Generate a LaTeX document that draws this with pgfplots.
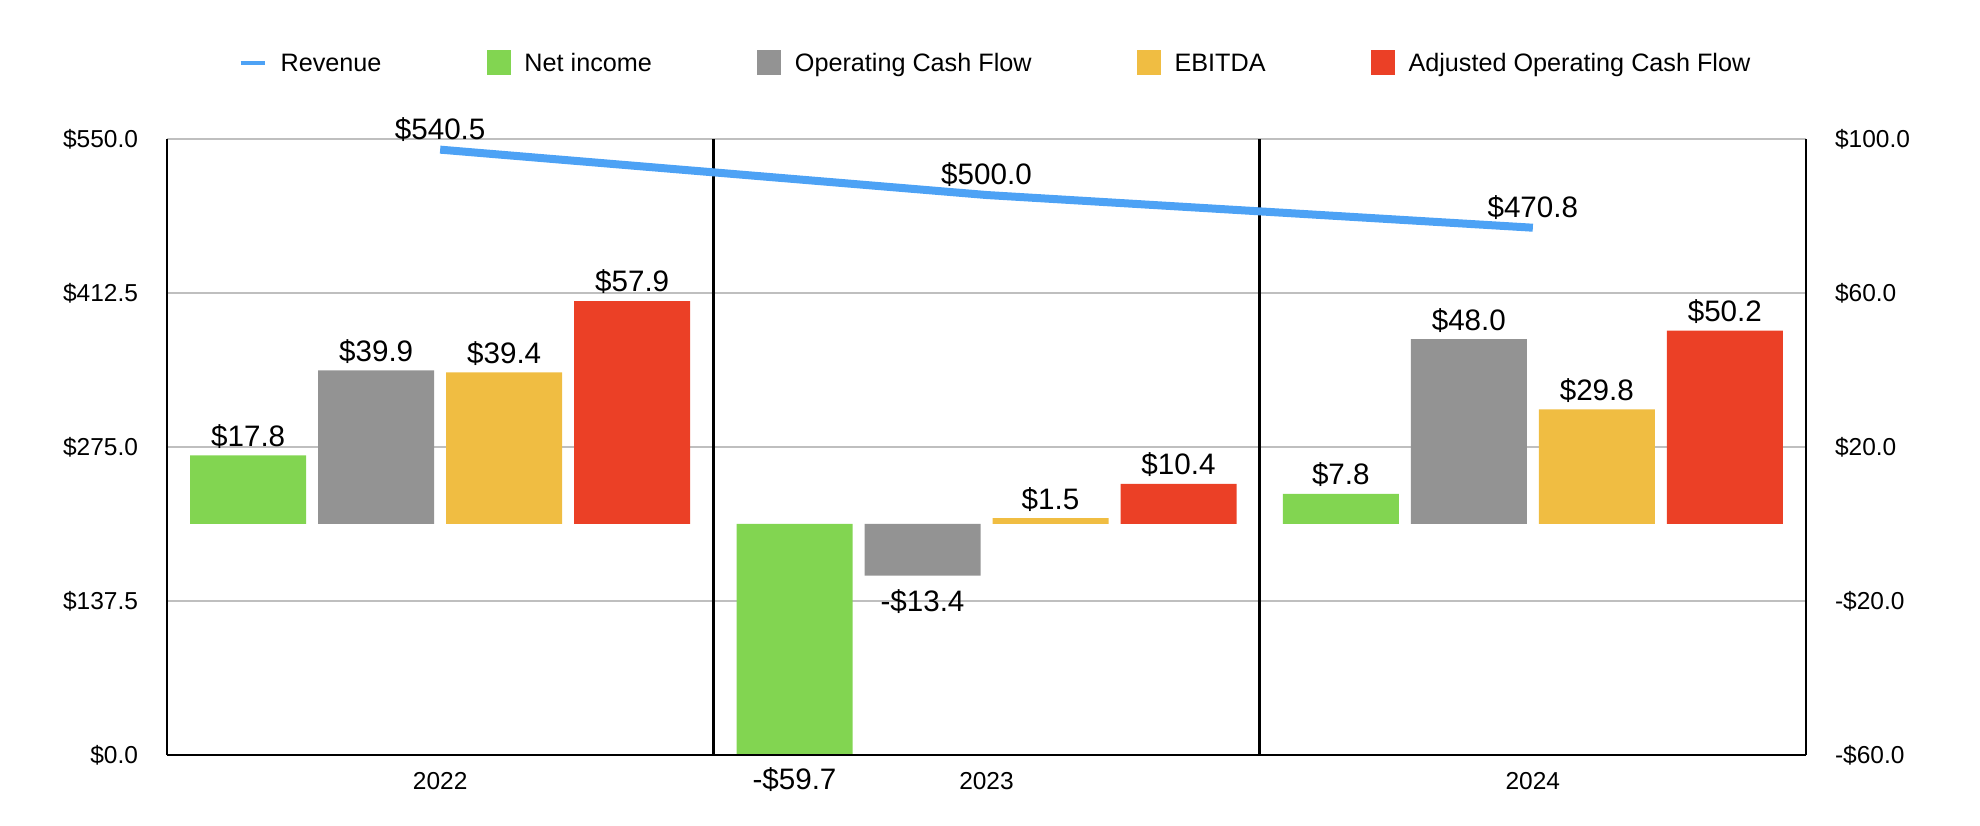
\documentclass[border=0pt]{standalone}
\usepackage{pgfplots}
\pgfplotsset{compat=1.18}
\usepackage{fontspec}
\setmainfont{Liberation Sans}
\definecolor{revBlue}{HTML}{4DA2F5}
\definecolor{niGreen}{HTML}{82D551}
\definecolor{ocfGray}{HTML}{939393}
\definecolor{ebYellow}{HTML}{F0BD42}
\definecolor{adjRed}{HTML}{EB4026}
\newcommand{\tickfont}{\fontsize{12.25bp}{14bp}\selectfont}
\newcommand{\legfont}{\fontsize{12.6bp}{14bp}\selectfont}
\newcommand{\valfont}{\fontsize{14.8bp}{17bp}\selectfont}
% labels of negative bars sit below the bar end
\newcommand{\neglab}[1]{\raisebox{-21.5bp}[0pt][0pt]{#1}}
\pgfplotsset{
  barleg/.style={legend image code/.code={\fill[##1,draw=none] (0bp,-5.5bp) rectangle (12bp,7bp);}},
}

\begin{document}
\begin{tikzpicture}
\useasboundingbox (-83.5bp,-35.5bp) rectangle (906.5bp,377.5bp);
% revenue line, grid, year separators and legend (left axis)
\begin{axis}[
  at={(0,0)}, anchor=south west,
  width=819.5bp, height=308bp, scale only axis,
  xmin=-0.5, xmax=2.5, ymin=0, ymax=550,
  xtick={0,1,2}, xticklabels={2022,2023,2024},
  extra x ticks={0.5,1.5}, extra x tick labels={},
  extra x tick style={grid=major, major grid style={black, line width=1.2bp}},
  ytick={0,137.5,275,412.5,550},
  yticklabels={\$0.0,\$137.5,\$275.0,\$412.5,\$550.0},
  ymajorgrids, major grid style={black!25, line width=0.65bp},
  axis x line*=bottom, axis y line*=left,
  axis line style={-, line width=1.2bp, black},
  major tick length=0pt,
  tick label style={font=\tickfont},
  xticklabel style={yshift=-5bp},
  yticklabel style={xshift=-11bp},
  clip=false,
  legend style={at={(0.5,1)}, anchor=center, xshift=5bp, yshift=37.5bp,
    draw=none, fill=none, font=\legfont, legend columns=-1,
    /tikz/every even column/.append style={column sep=50.5bp},
    /tikz/every odd column/.append style={column sep=5bp}},
  legend cell align=left,
]
\addplot[revBlue, line width=4bp, nodes near coords, point meta=explicit symbolic,
  every node near coord/.append style={font=\valfont, text=black, anchor=south, yshift=-1.3bp},
  legend image code/.code={\draw[revBlue, line width=2bp] (0bp,0.5bp) -- (12bp,0.5bp);}]
  coordinates {(0,540.5) [\$540.5] (1,500.0) [\$500.0] (2,470.8) [\$470.8]};
\addlegendimage{fill=niGreen, barleg}
\addlegendimage{fill=ocfGray, barleg}
\addlegendimage{fill=ebYellow, barleg}
\addlegendimage{fill=adjRed, barleg}
\legend{Revenue, Net income, Operating Cash Flow, EBITDA, Adjusted Operating Cash Flow}
\end{axis}
% bars (right axis)
\begin{axis}[
  at={(0,0)}, anchor=south west,
  width=819.5bp, height=308bp, scale only axis,
  xmin=-0.5, xmax=2.5, ymin=-60, ymax=100,
  hide x axis, axis y line*=right,
  axis line style={-, line width=1.2bp, black},
  ytick={-60,-20,20,60,100},
  yticklabels={-\$60.0,-\$20.0,\$20.0,\$60.0,\$100.0},
  major tick length=0pt,
  tick label style={font=\tickfont},
  yticklabel style={xshift=11bp},
  ybar=6bp, bar width=58bp,
  nodes near coords, point meta=explicit symbolic,
  every node near coord/.append style={font=\valfont, text=black, anchor=south},
  clip=false,
]
\addplot[fill=niGreen, draw=none] coordinates {(0,17.8) [\$17.8] (1,-59.7) [\neglab{-\$59.7}] (2,7.8) [\$7.8]};
\addplot[fill=ocfGray, draw=none] coordinates {(0,39.9) [\$39.9] (1,-13.4) [\neglab{-\$13.4}] (2,48.0) [\$48.0]};
\addplot[fill=ebYellow, draw=none] coordinates {(0,39.4) [\$39.4] (1,1.5) [\$1.5] (2,29.8) [\$29.8]};
\addplot[fill=adjRed, draw=none] coordinates {(0,57.9) [\$57.9] (1,10.4) [\$10.4] (2,50.2) [\$50.2]};
\end{axis}
\end{tikzpicture}
\end{document}
